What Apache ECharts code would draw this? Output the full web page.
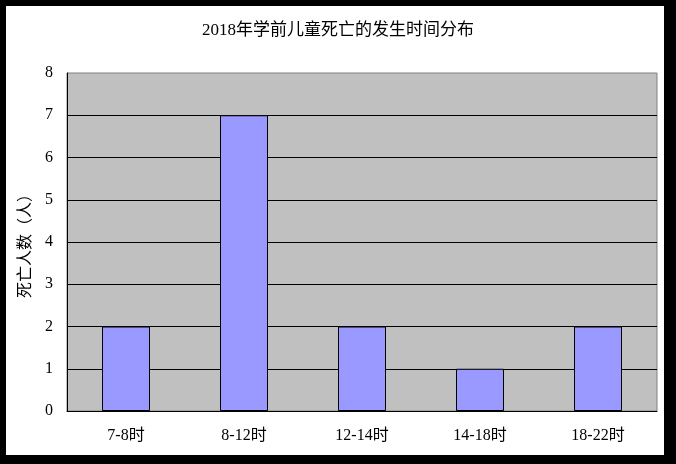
<!DOCTYPE html>
<html>
<head>
<meta charset="utf-8">
<script src="https://cdn.jsdelivr.net/npm/echarts@6/dist/echarts.min.js"></script>
<style>
  html, body { margin: 0; padding: 0; background: #fff; }
  #chart { position: absolute; left: 0; top: 0; width: 676px; height: 464px; }
  #frame {
    position: absolute; left: 0; top: 0; width: 676px; height: 464px;
    box-sizing: border-box; pointer-events: none;
    border-left: 6px solid #000; border-top: 6px solid #000;
    border-right: 12px solid #000; border-bottom: 9px solid #000;
  }
</style>
</head>
<body>
<div id="chart"></div>
<div id="frame"></div>
<script>
  // time slots and child deaths per slot
  const categories = ['7-8时', '8-12时', '12-14时', '14-18时', '18-22时']
  const deaths = [2, 7, 2, 1, 2]
  const titleText = '2018年学前儿童死亡的发生时间分布'
  const yName = '死亡人数（人）'

  const font = "'Liberation Serif', 'Noto Sans CJK SC', serif"

  const chart = echarts.init(document.getElementById('chart'), null, { renderer: 'canvas' })

  chart.setOption({
    animation: false,
    backgroundColor: '#fff',
    title: {
      text: titleText,
      left: 'center',
      top: 17,
      textStyle: { fontFamily: font, fontSize: 17, fontWeight: 'normal', color: '#000' }
    },
    grid: {
      left: 67, top: 73, right: 19, bottom: 53,
      show: true,
      backgroundColor: '#c0c0c0',
      borderColor: '#808080',
      borderWidth: 1
    },
    xAxis: {
      type: 'category',
      data: categories,
      axisLine: { lineStyle: { color: '#000', width: 1 } },
      axisTick: { inside: true, length: 5, lineStyle: { color: '#000' } },
      axisLabel: { margin: 17, fontFamily: font, fontSize: 16, color: '#000' }
    },
    yAxis: {
      type: 'value',
      min: 0,
      max: 8,
      interval: 1,
      name: yName,
      nameLocation: 'middle',
      nameRotate: 90,
      nameGap: 32,
      nameTextStyle: { fontFamily: font, fontSize: 16, color: '#000' },
      axisLine: { show: true, lineStyle: { color: '#000', width: 1 } },
      axisTick: { show: false },
      axisLabel: { margin: 14, fontFamily: font, fontSize: 16, color: '#000' },
      splitLine: { show: true, showMaxLine: false, lineStyle: { color: '#000', width: 1 } }
    },
    series: [{
      type: 'bar',
      data: deaths,
      barWidth: 48,
      itemStyle: { color: '#9999ff', borderColor: '#000', borderWidth: 1 }
    }]
  })
</script>
</body>
</html>
